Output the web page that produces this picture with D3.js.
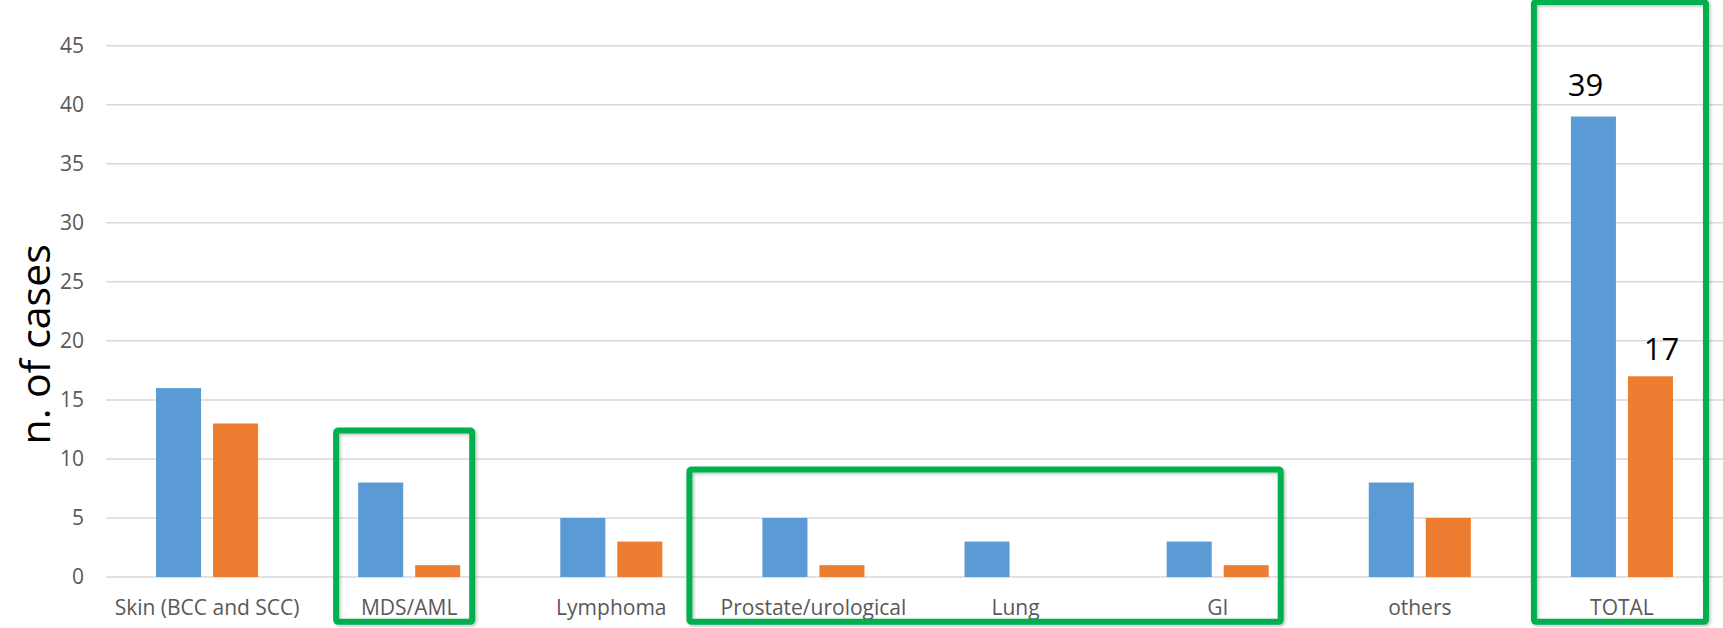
<!DOCTYPE html>
<html>
<head>
<meta charset="utf-8">
<script src="https://cdn.jsdelivr.net/npm/d3@7"></script>
<style>
  body { margin: 0; background: #fff; }
  svg { display: block; font-family: "Open Sans", sans-serif; }
</style>
</head>
<body>
<div id="chart"></div>
<script>
// data
const categories = [
  "Skin (BCC and SCC)",
  "MDS/AML",
  "Lymphoma",
  "Prostate/urological",
  "Lung",
  "GI",
  "others",
  "TOTAL",
];
const seriesA = [16, 8, 5, 5, 3, 3, 8, 39];
const seriesB = [13, 1, 3, 1, 0, 1, 5, 17];
const yTicks = [0, 5, 10, 15, 20, 25, 30, 35, 40, 45];
const labelled = ["TOTAL"]; // categories with value labels
const yTitle = "n. of cases";

// green highlight frames (annotation), pads are px outside the bar pair
const frames = [
  { from: "MDS/AML", to: "MDS/AML", top: 12.4, padL: 22, padR: 12 },
  { from: "Prostate/urological", to: "GI", top: 9.1, padL: 73, padR: 12 },
  { from: "TOTAL", to: "TOTAL", top: 48.7, padL: 37, padR: 33 },
];

const width = 1723;
const height = 628;
const margin = { left: 106, right: 0, top: 45.7, bottom: 51 };
const colors = ["#5b9bd5", "#ed7d31"];

const x0 = d3
  .scaleBand()
  .domain(categories)
  .range([margin.left, width - margin.right])
  .paddingInner(0.495)
  .paddingOuter(0.2475);

const x1 = d3
  .scaleBand()
  .domain([0, 1])
  .range([0, x0.bandwidth()])
  .paddingInner(0.21);

const y = d3
  .scaleLinear()
  .domain([0, 45])
  .range([height - margin.bottom, margin.top]);

const svg = d3
  .select("#chart")
  .append("svg")
  .attr("width", width)
  .attr("height", height);

// gridlines
svg
  .append("g")
  .attr("class", "grid")
  .selectAll("line")
  .data(yTicks)
  .join("line")
  .attr("x1", margin.left)
  .attr("x2", width - margin.right)
  .attr("y1", (d) => y(d))
  .attr("y2", (d) => y(d))
  .attr("stroke", "#d9d9d9")
  .attr("stroke-width", 1.5);

// y axis (labels only)
svg
  .append("g")
  .attr("transform", `translate(${margin.left - 22},0)`)
  .call(d3.axisLeft(y).tickValues(yTicks).tickSize(0).tickPadding(0))
  .call((g) => g.select(".domain").remove())
  .call((g) =>
    g
      .selectAll("text")
      .attr("fill", "#595959")
      .style("font-family", "'Open Sans', sans-serif")
      .style("font-size", "21px")
  );

// y title
svg
  .append("text")
  .attr("transform", `translate(50,${y(19.7)}) rotate(-90)`)
  .attr("text-anchor", "middle")
  .attr("fill", "#000")
  .style("font-size", "41px")
  .text(yTitle);

// x axis labels
svg
  .append("g")
  .attr("transform", `translate(0,${height - 13})`)
  .call(d3.axisBottom(x0).tickSize(0).tickPadding(0))
  .call((g) => g.select(".domain").remove())
  .call((g) =>
    g
      .selectAll("text")
      .attr("dy", 0)
      .attr("fill", "#595959")
      .style("font-family", "'Open Sans', sans-serif")
      .style("font-size", "21px")
  );

// bars
const rows = categories.map((c, i) => ({
  category: c,
  values: [seriesA[i], seriesB[i]],
}));

const groups = svg
  .append("g")
  .attr("class", "bars")
  .selectAll("g")
  .data(rows)
  .join("g")
  .attr("transform", (d) => `translate(${x0(d.category)},0)`);

groups
  .selectAll("rect")
  .data((d) => d.values.map((v, k) => ({ v, k, category: d.category })))
  .join("rect")
  .attr("x", (d) => x1(d.k))
  .attr("width", x1.bandwidth())
  .attr("y", (d) => y(d.v))
  .attr("height", (d) => y(0) - y(d.v))
  .attr("fill", (d) => colors[d.k]);

// value labels on TOTAL (placed by hand in the original, small nudges)
const labelNudge = [-8, 11];
const labelLift = [21, 16];
groups
  .filter((d) => labelled.includes(d.category))
  .selectAll("text")
  .data((d) => d.values.map((v, k) => ({ v, k })))
  .join("text")
  .attr("x", (d) => x1(d.k) + x1.bandwidth() / 2 + labelNudge[d.k])
  .attr("y", (d) => y(d.v) - labelLift[d.k])
  .attr("text-anchor", "middle")
  .attr("fill", "#000")
  .style("font-size", "31px")
  .text((d) => d.v);

// highlight frames
const defs = svg.append("defs");
defs
  .append("filter")
  .attr("id", "shadow")
  .attr("x", "-5%")
  .attr("y", "-5%")
  .attr("width", "110%")
  .attr("height", "110%")
  .append("feDropShadow")
  .attr("dx", 1.5)
  .attr("dy", 1.5)
  .attr("stdDeviation", 1.5)
  .attr("flood-color", "#000")
  .attr("flood-opacity", 0.25);

svg
  .append("g")
  .attr("class", "frames")
  .selectAll("rect")
  .data(frames)
  .join("rect")
  .attr("x", (d) => x0(d.from) - d.padL)
  .attr("width", (d) => x0(d.to) + x0.bandwidth() + d.padR - (x0(d.from) - d.padL))
  .attr("y", (d) => y(d.top))
  .attr("height", (d) => y(-3.8) - y(d.top))
  .attr("rx", 2)
  .attr("fill", "none")
  .attr("stroke", "#00b050")
  .attr("stroke-width", 6)
  .attr("filter", "url(#shadow)");
</script>
</body>
</html>
